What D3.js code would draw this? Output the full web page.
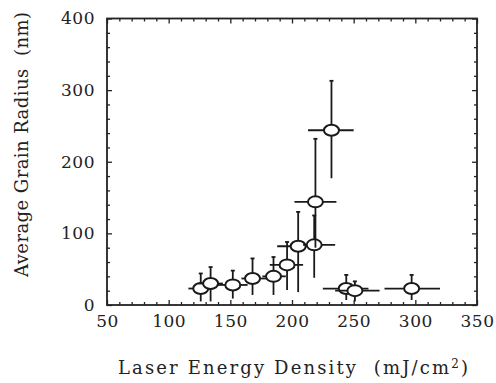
<!DOCTYPE html>
<html>
<head>
<meta charset="utf-8">
<script src="https://cdn.jsdelivr.net/npm/d3@7"></script>
<style>
  body { margin: 0; background: #fff; }
  svg { display: block; }
  .tick text { font-family: "DejaVu Serif", serif; font-size: 17px; fill: #222; letter-spacing: 0.5px; }
  .domain { display: none; }
  .tick line { stroke: #222; stroke-width: 1.3; }
  .title { font-family: "DejaVu Serif", serif; font-size: 18px; fill: #222; }
</style>
</head>
<body>
<svg id="chart"></svg>
<script>
// energy density (mJ/cm2) and grain radius (nm)
var energy  = [126, 134, 152, 168, 185, 196, 205, 218, 219, 232, 244, 251, 297];
var radius  = [23, 30, 28, 37, 40, 56, 82, 84, 144, 244, 23, 20, 23];
var energyLo = [116, 124, 139, 159, 176, 182, 188, 209, 202, 213, 225, 235, 275];
var energyHi = [136, 144, 164, 180, 195, 209, 214, 235, 236, 250, 262, 271, 320];
var radiusLo = [5, 5, 9, 14, 14, 21, 18, 38, 80, 177, 7, 5, 7];
var radiusHi = [44, 53, 48, 65, 67, 88, 130, 125, 232, 313, 42, 33, 42];

var xTicks = [50, 100, 150, 200, 250, 300, 350];
var yTicks = [0, 100, 200, 300, 400];

var width = 496, height = 383;
var plotLeft = 107, plotRight = 477, plotTop = 18.5, plotBottom = 305;

var svg = d3.select("#chart")
    .attr("width", width)
    .attr("height", height);

var x = d3.scaleLinear().domain([50, 350]).range([plotLeft, plotRight]);
var y = d3.scaleLinear().domain([0, 400]).range([plotBottom, plotTop]);

var xMinor = d3.range(50, 351, 10).filter(function(v) { return xTicks.indexOf(v) < 0; });
var yMinor = d3.range(0, 401, 20).filter(function(v) { return yTicks.indexOf(v) < 0; });

// major ticks with labels
svg.append("g")
    .attr("transform", "translate(0," + plotBottom + ")")
    .call(d3.axisBottom(x).tickValues(xTicks).tickSize(-5).tickPadding(10));
svg.append("g")
    .attr("transform", "translate(" + plotLeft + ",0)")
    .call(d3.axisLeft(y).tickValues(yTicks).tickSize(-5).tickPadding(12));
svg.append("g")
    .attr("transform", "translate(0," + plotTop + ")")
    .call(d3.axisTop(x).tickValues(xTicks).tickSize(-5).tickFormat(""));
svg.append("g")
    .attr("transform", "translate(" + plotRight + ",0)")
    .call(d3.axisRight(y).tickValues(yTicks).tickSize(-5).tickFormat(""));

// minor ticks
svg.append("g")
    .attr("transform", "translate(0," + plotBottom + ")")
    .call(d3.axisBottom(x).tickValues(xMinor).tickSize(-3).tickFormat(""));
svg.append("g")
    .attr("transform", "translate(0," + plotTop + ")")
    .call(d3.axisTop(x).tickValues(xMinor).tickSize(-3).tickFormat(""));
svg.append("g")
    .attr("transform", "translate(" + plotLeft + ",0)")
    .call(d3.axisLeft(y).tickValues(yMinor).tickSize(-3).tickFormat(""));
svg.append("g")
    .attr("transform", "translate(" + plotRight + ",0)")
    .call(d3.axisRight(y).tickValues(yMinor).tickSize(-3).tickFormat(""));

svg.append("rect")
    .attr("x", plotLeft)
    .attr("y", plotTop)
    .attr("width", plotRight - plotLeft)
    .attr("height", plotBottom - plotTop)
    .attr("fill", "none")
    .attr("stroke", "#222")
    .attr("stroke-width", 1.8);

var pts = svg.append("g").selectAll("g")
    .data(energy)
    .enter().append("g");

// horizontal error bars
pts.append("line")
    .attr("x1", function(d, i) { return x(energyLo[i]); })
    .attr("x2", function(d, i) { return x(energyHi[i]); })
    .attr("y1", function(d, i) { return y(radius[i]); })
    .attr("y2", function(d, i) { return y(radius[i]); })
    .attr("stroke", "#1a1a1a")
    .attr("stroke-width", 1.8);

// vertical error bars
pts.append("line")
    .attr("x1", function(d) { return x(d); })
    .attr("x2", function(d) { return x(d); })
    .attr("y1", function(d, i) { return y(radiusLo[i]); })
    .attr("y2", function(d, i) { return y(radiusHi[i]); })
    .attr("stroke", "#1a1a1a")
    .attr("stroke-width", 1.8);

pts.append("line")
    .attr("x1", function(d) { return x(d) - 2; })
    .attr("x2", function(d) { return x(d) + 2; })
    .attr("y1", function(d, i) { return y(radiusHi[i]); })
    .attr("y2", function(d, i) { return y(radiusHi[i]); })
    .attr("stroke", "#1a1a1a")
    .attr("stroke-width", 1.8);

pts.append("ellipse")
    .attr("cx", function(d) { return x(d); })
    .attr("cy", function(d, i) { return y(radius[i]); })
    .attr("rx", 7.5)
    .attr("ry", 5.5)
    .attr("fill", "#fff")
    .attr("stroke", "#1a1a1a")
    .attr("stroke-width", 2);

// axis titles
var xt = svg.append("text")
    .attr("class", "title")
    .attr("x", 118)
    .attr("y", 374)
    .attr("textLength", 350)
    .attr("lengthAdjust", "spacing")
    .attr("xml:space", "preserve");
xt.append("tspan").text("Laser Energy Density  (mJ/cm");
xt.append("tspan").attr("dy", -6).style("font-size", "12px").text("2");
xt.append("tspan").attr("dy", 6).text(")");

svg.append("text")
    .attr("class", "title")
    .attr("transform", "translate(28,144.5) rotate(-90)")
    .attr("text-anchor", "middle")
    .attr("textLength", 265)
    .attr("lengthAdjust", "spacing")
    .attr("xml:space", "preserve")
    .text("Average Grain Radius  (nm)");
</script>
</body>
</html>
